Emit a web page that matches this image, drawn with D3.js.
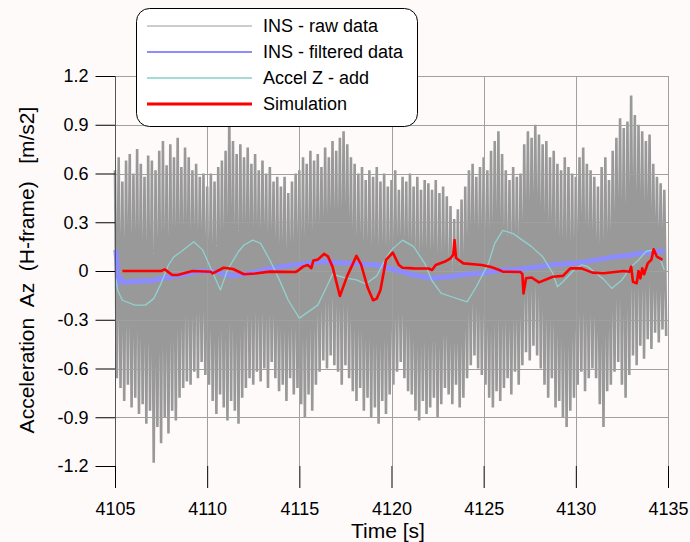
<!DOCTYPE html>
<html>
<head>
<meta charset="utf-8">
<script src="https://cdn.jsdelivr.net/npm/d3@7"></script>
<style>
  html, body { margin: 0; padding: 0; background: #fefafa; }
  text { font-family: "Liberation Sans", Arial, sans-serif; }
</style>
</head>
<body>
<div id="chart"></div>
<script>
// tick values
var xTicks = [4105, 4110, 4115, 4120, 4125, 4130, 4135];
var yTicks = [-1.2, -0.9, -0.6, -0.3, 0, 0.3, 0.6, 0.9, 1.2];
var yTickLabels = ['-1.2', '-0.9', '-0.6', '-0.3', '0', '0.3', '0.6', '0.9', '1.2'];

// INS raw data, read as upper / lower peaks every 0.2 s from 4105.0
var rawStart = 4105.0, rawStep = 0.2;
var rawHi = [
  0.62, 0.70, 0.55, 0.68, 0.72,  0.60, 0.75, 0.66, 0.58, 0.71,
  0.68, 0.62, 0.74, 0.80, 0.65,  0.78, 0.70, 0.82, 0.64, 0.76,
  0.70, 0.62, 0.66, 0.58, 0.60,  0.52, 0.60, 0.55, 0.64, 0.68,
  0.74, 0.98, 0.80, 0.72, 0.78,  0.70, 0.76, 0.66, 0.72, 0.62,
  0.68, 0.60, 0.64, 0.55, 0.58,  0.52, 0.58, 0.48, 0.55, 0.60,
  0.62, 0.70, 0.66, 0.74, 0.68,  0.72, 0.64, 0.76, 0.70, 0.80,
  0.74, 0.82, 0.86, 0.78, 0.70,  0.66, 0.60, 0.64, 0.56, 0.62,
  0.58, 0.64, 0.55, 0.60, 0.52,  0.56, 0.62, 0.50, 0.58, 0.55,
  0.60, 0.52, 0.58, 0.50, 0.56,  0.54, 0.50, 0.56, 0.48, 0.52,
  0.46, 0.40, 0.32, 0.38, 0.44,  0.52, 0.62, 0.66, 0.58, 0.64,
  0.70, 0.62, 0.74, 0.80, 0.86,  0.72, 0.62, 0.56, 0.64, 0.58,
  0.60, 0.78, 0.86, 0.82, 0.90,  0.84, 0.78, 0.80, 0.70, 0.74,
  0.66, 0.62, 0.70, 0.64, 0.60,  0.58, 0.70, 0.76, 0.66, 0.62,
  0.58, 0.52, 0.64, 0.70, 0.56,  0.74, 0.82, 0.94, 0.88, 0.92,
  1.08, 0.96, 0.90, 0.86, 0.80,  0.84, 0.66, 0.58, 0.54, 0.50
];
var rawLo = [
  -0.66, -0.72, -0.80, -0.70, -0.84,  -0.78, -0.88, -0.82, -0.94, -0.86,
  -1.18, -0.96, -1.06, -0.90, -1.00,  -0.86, -0.92, -0.78, -0.72, -0.68,
  -0.70, -0.62, -0.66, -0.56, -0.64,  -0.70, -0.80, -0.88, -0.76, -0.84,
  -0.92, -0.80, -0.86, -0.94, -0.78,  -0.72, -0.66, -0.70, -0.62, -0.68,
  -0.60, -0.72, -0.56, -0.66, -0.74,  -0.70, -0.80, -0.66, -0.76, -0.72,
  -0.82, -0.90, -0.76, -0.86, -0.70,  -0.62, -0.55, -0.60, -0.52, -0.58,
  -0.62, -0.70, -0.58, -0.66, -0.74,  -0.80, -0.72, -0.86, -0.78, -0.90,
  -0.84, -0.94, -0.80, -0.88, -0.76,  -0.70, -0.62, -0.56, -0.66, -0.74,
  -0.76, -0.86, -0.92, -0.80, -0.88,  -0.84, -0.78, -0.90, -0.82, -0.72,
  -0.76, -0.82, -0.70, -0.84, -0.78,  -0.66, -0.58, -0.52, -0.60, -0.64,
  -0.70, -0.78, -0.84, -0.74, -0.80,  -0.72, -0.66, -0.76, -0.62, -0.70,
  -0.58, -0.50, -0.55, -0.46, -0.52,  -0.60, -0.70, -0.78, -0.66, -0.84,
  -0.80, -0.90, -0.96, -0.86, -0.78,  -0.70, -0.62, -0.74, -0.66, -0.60,
  -0.66, -0.82, -0.96, -0.74, -0.70,  -0.62, -0.56, -0.70, -0.78, -0.64,
  -0.52, -0.58, -0.46, -0.54, -0.42,  -0.48, -0.38, -0.44, -0.36, -0.40
];

// INS filtered data
var filtTime = [4105.05, 4105.1, 4105.15, 4105.25, 4105.5, 4106.0, 4107.0, 4107.6, 4108.6, 4109.6,
  4110.5, 4111.3, 4112.5, 4113.4, 4114.4, 4115.4, 4116.3, 4117.3, 4118.3, 4119.25,
  4120.2, 4121.2, 4122.2, 4123.1, 4124.1, 4125.0, 4126.0, 4127.0, 4128.0, 4128.9,
  4129.9, 4130.9, 4131.9, 4132.8, 4133.8, 4134.8];
var filtValue = [0.13, 0.05, -0.08, -0.04, -0.07, -0.065, -0.06, -0.045, -0.025, 0,
  -0.005, -0.03, -0.01, 0.016, 0.033, 0.047, 0.058, 0.05, 0.043, 0.037,
  0.006, -0.025, -0.045, -0.035, -0.02, -0.012, 0.006, 0.012, 0.027, 0.041,
  0.047, 0.064, 0.084, 0.095, 0.113, 0.123];

// Accel Z - add
var accTime = [4105.05, 4105.15, 4105.4, 4106.07, 4106.65, 4107.1, 4107.5, 4107.9, 4108.2, 4108.6,
  4109.27, 4109.75, 4110.24, 4110.72, 4111.1, 4111.7, 4112.0, 4112.47, 4112.9, 4113.4,
  4113.9, 4114.4, 4115.0, 4115.5, 4116.0, 4116.3, 4116.8, 4117.6, 4118.1, 4118.6,
  4119.2, 4119.6, 4120.0, 4120.6, 4121.2, 4121.8, 4122.2, 4122.7, 4123.3, 4124.1,
  4124.6, 4125.26, 4125.6, 4126.04, 4126.6, 4127.6, 4128.2, 4128.75, 4129.0, 4129.3,
  4129.9, 4130.3, 4130.6, 4131.1, 4131.5, 4131.95, 4132.5, 4133.0, 4133.4, 4133.8,
  4134.2, 4134.6, 4134.8];
var accValue = [-0.05, -0.12, -0.18, -0.21, -0.21, -0.17, -0.076, 0.037, 0.088, 0.12,
  0.18, 0.13, 0.006, -0.117, 0.006, 0.12, 0.16, 0.19, 0.17, 0.068,
  -0.05, -0.18, -0.29, -0.25, -0.21, -0.14, -0.02, -0.045, -0.055, -0.08,
  -0.03, 0.06, 0.13, 0.19, 0.15, 0.047, -0.06, -0.138, -0.16, -0.19,
  -0.097, 0.047, 0.17, 0.25, 0.23, 0.15, 0.088, -0.014, -0.097, -0.066,
  0.006, 0.037, 0.03, -0.014, -0.05, -0.107, -0.055, 0.027, 0.068, 0.12,
  0.13, 0.068, 0.006];

// Simulation
var simTime = [4105.4, 4107.5, 4107.7, 4108.1, 4108.4, 4109.2, 4110.2, 4110.3, 4110.9, 4111.4,
  4112.0, 4112.6, 4113.4, 4114.8, 4114.9, 4115.2, 4115.45, 4115.65, 4115.76, 4116.0,
  4116.34, 4116.55, 4116.8, 4117.2, 4117.6, 4118.1, 4118.35, 4118.7, 4119.0, 4119.2,
  4119.4, 4119.7, 4120.07, 4120.4, 4120.6, 4121.2, 4122.0, 4122.2, 4122.4, 4122.9,
  4123.2, 4123.35, 4123.42, 4123.5, 4123.9, 4124.9, 4125.4, 4125.85, 4126.04, 4127.0,
  4127.1, 4127.16, 4127.3, 4127.6, 4128.0, 4128.75, 4129.3, 4129.7, 4130.3, 4130.9,
  4131.5, 4132.6, 4132.9, 4133.0, 4133.1, 4133.3, 4133.4, 4133.5, 4133.6, 4133.7,
  4133.9, 4134.1, 4134.22, 4134.4, 4134.7];
var simValue = [0, 0, 0.01, -0.025, -0.025, 0, -0.005, -0.015, 0.02, 0.012,
  -0.02, -0.015, -0.004, -0.006, 0, 0.027, 0.037, 0.018, 0.064, 0.07,
  0.105, 0.09, 0.027, -0.154, -0.03, 0.093, 0.04, -0.1, -0.18, -0.17,
  -0.117, 0.068, 0.113, 0.037, 0.02, 0.016, 0.015, 0.006, 0.037, 0.058,
  0.078, 0.1, 0.19, 0.08, 0.047, 0.037, 0.025, 0.006, -0.004, -0.006,
  -0.02, -0.138, -0.045, -0.04, -0.07, -0.035, -0.03, 0.016, 0.016, -0.01,
  -0.014, 0, -0.005, 0.027, -0.066, -0.076, 0, -0.045, 0.016, -0.02,
  0.047, 0.07, 0.134, 0.088, 0.068];

var legendNames = ['INS - raw data', 'INS - filtered data', 'Accel Z - add', 'Simulation'];
var legendColors = ['#9a9a9a', '#8c8cff', '#a6dcd8', '#ff0000'];
var legendWidths = [1, 2, 2, 3];

var drawChart = function(){
  var width = 690, height = 542;
  var x = d3.scaleLinear().domain([4105, 4135]).range([115, 668]);
  var y = d3.scaleLinear().domain([-1.2, 1.2]).range([466, 76]);

  var svg = d3.select('#chart').append('svg')
    .attr('width', width)
    .attr('height', height);

  svg.append('rect')
    .attr('width', width).attr('height', height)
    .attr('fill', '#fefafa');

  // raw data as a zigzag through the read peaks
  var rawPts = [];
  rawHi.forEach(function(v, i){
    var t = rawStart + i * rawStep;
    rawPts.push([t, v]);
    rawPts.push([t + rawStep / 2, rawLo[i]]);
  });
  var line = d3.line()
    .x(function(d){ return x(d[0]); })
    .y(function(d){ return y(d[1]); });

  svg.append('path')
    .attr('d', line(rawPts))
    .attr('fill', 'none')
    .attr('stroke', '#999999')
    .attr('stroke-width', 2.6)
    .attr('stroke-linejoin', 'miter');

  // grid
  var grid = svg.append('g').attr('stroke', '#a0a0a0').attr('stroke-width', 1);
  grid.selectAll('.hg')
    .data(yTicks.filter(function(d){ return d > -1.2; }))
    .enter().append('line')
    .attr('x1', x(4105)).attr('x2', x(4135))
    .attr('y1', function(d){ return Math.round(y(d)) + 0.5; })
    .attr('y2', function(d){ return Math.round(y(d)) + 0.5; });
  grid.selectAll('.vg')
    .data(xTicks.slice(1))
    .enter().append('line')
    .attr('y1', y(1.2)).attr('y2', y(-1.2))
    .attr('x1', function(d){ return Math.round(x(d)) + 0.5; })
    .attr('x2', function(d){ return Math.round(x(d)) + 0.5; });

  var series = [
    { t: filtTime, v: filtValue, color: '#8c8cff', w: 5 },
    { t: accTime, v: accValue, color: '#8fd2cf', w: 1.3 },
    { t: simTime, v: simValue, color: '#ff0000', w: 2.6 }
  ];
  series.forEach(function(s){
    var pts = s.t.map(function(t, i){ return [t, s.v[i]]; });
    svg.append('path')
      .attr('d', line(pts))
      .attr('fill', 'none')
      .attr('stroke', s.color)
      .attr('stroke-width', s.w)
      .attr('stroke-linejoin', 'round');
  });

  // y axis
  var yAxis = svg.append('g')
    .attr('transform', 'translate(115.5,0)')
    .call(d3.axisLeft(y).tickValues(yTicks).tickSize(20)
      .tickFormat(function(d, i){ return yTickLabels[i]; }));
  yAxis.select('.domain').remove();
  yAxis.selectAll('.tick line').attr('stroke', '#000');
  yAxis.selectAll('.tick text')
    .attr('x', -27)
    .style('font-size', '18px')
    .attr('fill', '#000');
  svg.append('line')
    .attr('x1', 115.5).attr('x2', 115.5)
    .attr('y1', y(1.2)).attr('y2', 488)
    .attr('stroke', '#555');

  // x axis ticks below the frame
  var xAxis = svg.append('g')
    .attr('transform', 'translate(0,466)')
    .call(d3.axisBottom(x).tickValues(xTicks).tickSize(22).tickFormat(d3.format('d')));
  xAxis.select('.domain').remove();
  xAxis.selectAll('.tick line').attr('stroke', '#000');
  xAxis.selectAll('.tick text')
    .attr('y', 36)
    .style('font-size', '18px')
    .attr('fill', '#000');

  // x axis label
  svg.append('text')
    .attr('x', 388)
    .attr('y', 538)
    .style('text-anchor', 'middle')
    .style('font-size', '21px')
    .text('Time [s]');

  // y axis label
  svg.append('text')
    .attr('transform', 'translate(34,270) rotate(-90)')
    .style('text-anchor', 'middle')
    .style('font-size', '21px')
    .style('white-space', 'pre')
    .text('Acceleration  Az  (H-frame)   [m/s2]');

  // legend
  var lg = svg.append('g');
  lg.append('rect')
    .attr('x', 136.5).attr('y', 8.5)
    .attr('width', 281).attr('height', 118)
    .attr('rx', 13).attr('ry', 13)
    .attr('fill', '#fff')
    .attr('stroke', '#000');
  legendNames.forEach(function(name, i){
    var ly = 26 + i * 26;
    lg.append('line')
      .attr('x1', 147).attr('x2', 252)
      .attr('y1', ly).attr('y2', ly)
      .attr('stroke', legendColors[i])
      .attr('stroke-width', legendWidths[i]);
    lg.append('text')
      .attr('x', 263).attr('y', ly + 6)
      .style('font-size', '18px')
      .text(name);
  });
};

drawChart();
</script>
</body>
</html>
